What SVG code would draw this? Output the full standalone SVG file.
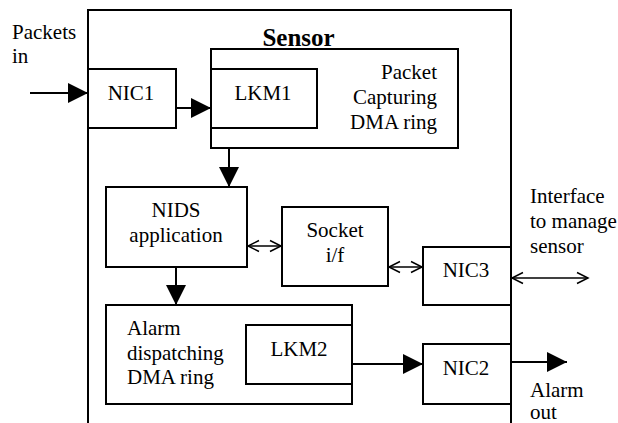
<svg xmlns="http://www.w3.org/2000/svg" width="618" height="423" viewBox="0 0 618 423">
  <style>
    .box { fill: #fff; stroke: #000; stroke-width: 2; }
    .line { fill: none; stroke: #000; stroke-width: 2; }
    .thin { stroke-width: 1.5; }
    text { font-family: "Liberation Serif", "Times New Roman", serif; font-size: 21px; fill: #000; }
    .mid { text-anchor: middle; }
    .end { text-anchor: end; }
    .title { font-weight: bold; font-size: 25px; }
  </style>
  <defs>
    <marker id="solid" markerUnits="userSpaceOnUse" markerWidth="20" markerHeight="20" refX="20" refY="10" orient="auto">
      <path d="M0,0 L20,10 L0,20 Z" fill="#000"/>
    </marker>
    <marker id="open" markerUnits="userSpaceOnUse" markerWidth="14" markerHeight="14" refX="12" refY="7" orient="auto-start-reverse">
      <path d="M1,1.5 L12,7 L1,12.5" fill="none" stroke="#000" stroke-width="1.5"/>
    </marker>
  </defs>
  <rect width="618" height="423" fill="#fff"/>

  <!-- sensor enclosure, open at the bottom edge -->
  <g id="sensor">
    <path class="line" d="M88,430 V10 H511 V430"/>
    <text class="title mid" x="298.5" y="46">Sensor</text>
  </g>

  <g id="packets-in">
    <text x="12" y="39">Packets</text>
    <text x="12" y="63">in</text>
  </g>

  <g id="nic1">
    <rect class="box" x="88" y="69" width="88" height="59"/>
    <text class="mid" x="131" y="100">NIC1</text>
  </g>

  <g id="packet-ring">
    <rect class="box" x="211" y="49" width="247" height="99"/>
    <text class="end" x="437" y="79">Packet</text>
    <text class="end" x="437" y="104">Capturing</text>
    <text class="end" x="437" y="129">DMA ring</text>
  </g>

  <g id="lkm1">
    <rect class="box" x="211" y="69" width="106" height="59"/>
    <text class="mid" x="263" y="100">LKM1</text>
  </g>

  <g id="nids">
    <rect class="box" x="106" y="187" width="141" height="80"/>
    <text class="mid" x="176" y="217">NIDS</text>
    <text class="mid" x="176" y="242">application</text>
  </g>

  <g id="socket">
    <rect class="box" x="282" y="207" width="106" height="79"/>
    <text class="mid" x="335" y="237">Socket</text>
    <text class="mid" x="335" y="262">i/f</text>
  </g>

  <g id="nic3">
    <rect class="box" x="423" y="247" width="88" height="58"/>
    <text class="mid" x="466" y="277">NIC3</text>
  </g>

  <g id="manage-label">
    <text x="530" y="203">Interface</text>
    <text x="530" y="228">to manage</text>
    <text x="530" y="253">sensor</text>
  </g>

  <g id="alarm-ring">
    <rect class="box" x="106" y="305" width="246" height="99"/>
    <text x="127" y="335">Alarm</text>
    <text x="127" y="360">dispatching</text>
    <text x="127" y="384">DMA ring</text>
  </g>

  <g id="lkm2">
    <rect class="box" x="246" y="325" width="106" height="59"/>
    <text class="mid" x="299" y="356">LKM2</text>
  </g>

  <g id="nic2">
    <rect class="box" x="423" y="344" width="88" height="60"/>
    <text class="mid" x="466" y="375">NIC2</text>
  </g>

  <g id="alarm-out">
    <text x="530" y="397">Alarm</text>
    <text x="530" y="419">out</text>
  </g>

  <g id="connectors">
    <line class="line" x1="30" y1="93" x2="88" y2="93" marker-end="url(#solid)"/>
    <line class="line" x1="176" y1="108" x2="211" y2="108" marker-end="url(#solid)"/>
    <line class="line" x1="229" y1="148" x2="229" y2="187" marker-end="url(#solid)"/>
    <line class="line" x1="176" y1="267" x2="176" y2="305" marker-end="url(#solid)"/>
    <line class="line" x1="352" y1="364" x2="423" y2="364" marker-end="url(#solid)"/>
    <line class="line" x1="511" y1="362" x2="567" y2="362" marker-end="url(#solid)"/>
    <line class="line thin" x1="248" y1="246" x2="281" y2="246" marker-start="url(#open)" marker-end="url(#open)"/>
    <line class="line thin" x1="389" y1="267" x2="422" y2="267" marker-start="url(#open)" marker-end="url(#open)"/>
    <line class="line thin" x1="512" y1="278" x2="588" y2="278" marker-start="url(#open)" marker-end="url(#open)"/>
  </g>
</svg>
